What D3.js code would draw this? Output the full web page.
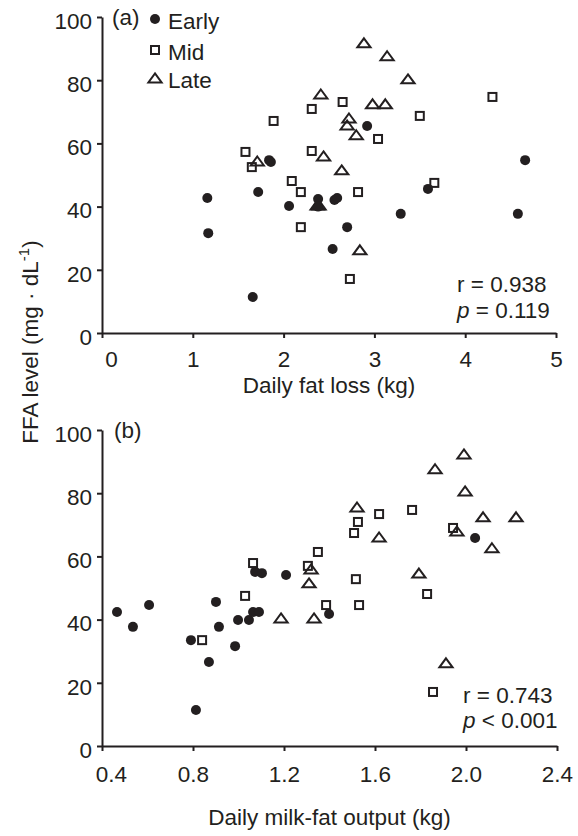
<!DOCTYPE html>
<html>
<head>
<meta charset="utf-8">
<script src="https://cdn.jsdelivr.net/npm/d3@7"></script>
<style>
  html, body { margin: 0; padding: 0; background: #fff; }
  svg { display: block; }
  text { font-family: "Liberation Sans", Arial, Helvetica, sans-serif; fill: #231f20; }
</style>
</head>
<body>
<script>
// ---------- DATA ----------
const seriesNames = ["Early", "Mid", "Late"];
const yTicks = [0, 20, 40, 60, 80, 100];
const xTicksA = [0, 1, 2, 3, 4, 5];
const xTicksB = [0.4, 0.8, 1.2, 1.6, 2.0, 2.4];

// Panel (a): [daily fat loss (kg), FFA level]
const earlyA = [[1.16,42.7],[1.17,31.6],[1.66,11.4],[1.72,44.6],[1.84,54.7],[1.86,54.1],[2.06,40.2],[2.38,42.4],[2.38,40.0],[2.54,26.6],[2.56,42.1],[2.59,42.7],[2.70,33.5],[2.92,65.5],[3.29,37.7],[3.59,45.6],[4.58,37.7],[4.66,54.7]];
const midA = [[1.58,57.3],[1.65,52.5],[1.89,67.1],[2.09,48.1],[2.19,44.6],[2.19,33.5],[2.31,57.6],[2.31,70.9],[2.65,73.1],[2.82,44.6],[2.73,17.1],[3.04,61.4],[3.50,68.7],[3.66,47.5],[4.30,74.7]];
const lateA = [[2.885,91.8],[3.14,87.7],[3.37,80.4],[2.41,75.6],[2.98,72.5],[3.12,72.5],[2.72,68.0],[2.70,65.8],[2.80,62.7],[2.44,56.0],[2.64,51.6],[1.71,54.4],[2.84,26.3],[2.37,40.5],[2.39,40.5]];

// Panel (b): [daily milk-fat output (kg), FFA level]
const earlyB = [[0.466,42.4],[0.536,37.7],[0.607,44.6],[0.791,33.5],[0.813,11.4],[0.870,26.6],[0.901,45.6],[0.914,37.7],[0.985,31.6],[0.998,39.9],[1.046,39.9],[1.064,42.4],[1.090,42.4],[1.073,55.1],[1.103,54.7],[1.209,54.1],[1.398,41.8],[2.040,65.8]];
const midB = [[0.84,33.5],[1.029,47.5],[1.064,57.9],[1.305,57.0],[1.349,61.4],[1.385,44.6],[1.508,67.4],[1.525,70.9],[1.516,52.8],[1.53,44.6],[1.618,73.4],[1.763,74.7],[1.829,48.1],[1.943,69.0],[1.855,17.1]];
const lateB = [[1.991,92.4],[1.864,87.7],[1.996,80.7],[1.521,75.6],[2.075,72.5],[2.22,72.5],[1.96,68.0],[1.618,66.1],[2.114,62.7],[1.319,56.0],[1.31,51.6],[1.793,54.7],[1.912,26.3],[1.332,40.5],[1.187,40.5]];

const statsA = ["r = 0.938", "= 0.119"];
const statsB = ["r = 0.743", "< 0.001"];

// ---------- DRAW ----------
const W = 578, H = 836;
const INK = "#231f20";
const FS = 22.5;

const svg = d3.select("body").append("svg")
  .attr("width", W).attr("height", H);

const triPath = "M0,-4.6L6.6,4.4L-6.6,4.4Z";

function drawMarkers(g, data, type, x, y) {
  if (type === "Early") {
    g.selectAll(null).data(data).enter().append("circle")
      .attr("cx", d => x(d[0])).attr("cy", d => y(d[1]))
      .attr("r", 5).attr("fill", INK);
  } else if (type === "Mid") {
    g.selectAll(null).data(data).enter().append("rect")
      .attr("x", d => x(d[0]) - 4).attr("y", d => y(d[1]) - 4)
      .attr("width", 8).attr("height", 8)
      .attr("fill", "none").attr("stroke", INK).attr("stroke-width", 2);
  } else {
    g.selectAll(null).data(data).enter().append("path")
      .attr("d", triPath)
      .attr("transform", d => `translate(${x(d[0])},${y(d[1])})`)
      .attr("fill", "none").attr("stroke", INK).attr("stroke-width", 2)
      .attr("stroke-linejoin", "miter");
  }
}

function styleAxis(g) {
  g.select(".domain").attr("stroke", INK).attr("stroke-width", 2);
  g.selectAll(".tick line").attr("stroke", INK).attr("stroke-width", 2);
  g.selectAll(".tick text")
    .attr("font-family", "Liberation Sans, Arial, sans-serif")
    .attr("font-size", FS).attr("fill", INK);
  g.attr("font-family", null).attr("font-size", null);
}

function panel(cfg) {
  const x = d3.scaleLinear().domain(cfg.xDomain).range(cfg.xRange);
  const y = d3.scaleLinear().domain([0, 100]).range(cfg.yRange);

  const gx = svg.append("g")
    .attr("transform", `translate(0,${cfg.yRange[0]})`)
    .call(d3.axisBottom(x).tickValues(cfg.xTicks).tickFormat(cfg.xFormat)
      .tickSize(5).tickSizeOuter(0).tickPadding(cfg.xPad));
  styleAxis(gx);
  gx.selectAll(".tick text").filter((d, i) => i === 0).attr("dx", 9);

  const gy = svg.append("g")
    .attr("transform", `translate(${cfg.xRange[0]},0)`)
    .call(d3.axisLeft(y).tickValues(yTicks).tickFormat(d3.format("d"))
      .tickSize(5).tickSizeOuter(0).tickPadding(5));
  styleAxis(gy);
  gy.selectAll(".tick text").attr("dy", "0.5em");

  const gm = svg.append("g");
  drawMarkers(gm, cfg.mid, "Mid", x, y);
  drawMarkers(gm, cfg.late, "Late", x, y);
  drawMarkers(gm, cfg.early, "Early", x, y);

  // panel letter
  svg.append("text").attr("x", cfg.letterX).attr("y", cfg.letterY)
    .attr("font-size", FS).text(cfg.letter);

  // stats
  svg.append("text").attr("x", cfg.statX).attr("y", cfg.statY1)
    .attr("font-size", FS).text(cfg.stats[0]);
  const p = svg.append("text").attr("x", cfg.statX).attr("y", cfg.statY2)
    .attr("font-size", FS);
  p.append("tspan").attr("font-style", "italic").text("p");
  p.append("tspan").text(" " + cfg.stats[1]);

  // x title
  svg.append("text").attr("x", (cfg.xRange[0] + cfg.xRange[1]) / 2)
    .attr("y", cfg.xTitleY).attr("text-anchor", "middle")
    .attr("font-size", FS).text(cfg.xTitle);

  return { x, y };
}

const A = panel({
  xDomain: [0, 5], xRange: [102, 556], yRange: [333, 17],
  xTicks: xTicksA, xFormat: d3.format("d"), xPad: 13,
  early: earlyA, mid: midA, late: lateA,
  letter: "(a)", letterX: 112, letterY: 25,
  stats: statsA, statX: 457, statY1: 292, statY2: 318,
  xTitle: "Daily fat loss (kg)", xTitleY: 393
});

panel({
  xDomain: [0.4, 2.4], xRange: [102, 557], yRange: [746, 430],
  xTicks: xTicksB, xFormat: d => d.toFixed(1), xPad: 15,
  early: earlyB, mid: midB, late: lateB,
  letter: "(b)", letterX: 114, letterY: 438,
  stats: statsB, statX: 463, statY1: 703, statY2: 728,
  xTitle: "Daily milk-fat output (kg)", xTitleY: 825
});

// legend (panel a)
const legY = [19, 50, 78];
const leg = svg.append("g");
seriesNames.forEach((name, i) => {
  const cy = legY[i];
  const lx = d3.scaleLinear().domain([0, 1]).range([155, 156]);
  const ly = d3.scaleLinear().domain([0, 1]).range([cy, cy + 1]);
  drawMarkers(leg, [[0, 0]], name, lx, ly);
  leg.append("text").attr("x", 168).attr("y", cy + 9.5)
    .attr("font-size", FS).text(name);
});

// y title
const yt = svg.append("text")
  .attr("transform", "translate(38,342) rotate(-90)")
  .attr("text-anchor", "middle").attr("font-size", FS);
yt.append("tspan").text("FFA level (mg \u00B7 dL");
yt.append("tspan").attr("font-size", 15).attr("dy", -9).text("-1");
yt.append("tspan").attr("dy", 9).text(")");
</script>
</body>
</html>
